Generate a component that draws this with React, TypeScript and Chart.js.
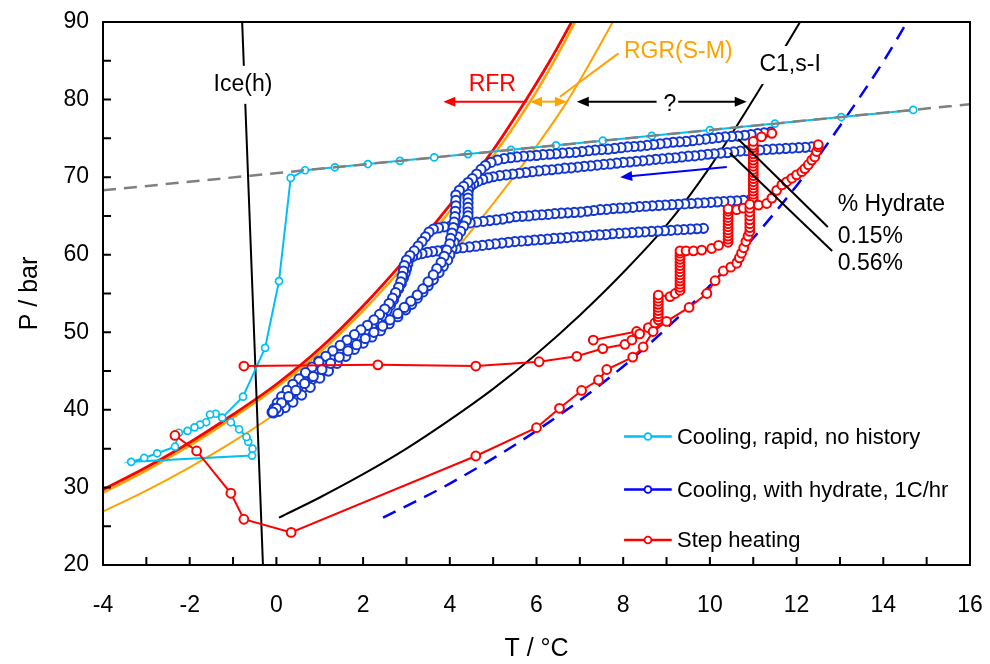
import React, { useEffect, useRef } from "react";
import { Chart, registerables } from "chart.js";

Chart.register(...registerables);

const FONT = "'Liberation Sans', Arial, Helvetica, sans-serif";
const RED = "#FF0000";
const ORANGE = "#FFA200";
const CYAN = "#00BFF3";
const BLUE = "#1236D2";
const BLUE_LINE = "#0000FF";
const GREY = "#808080";

type Pair = [number, number];

// ---------- equilibrium curves (T in °C, P in bar) ----------
const rfrT = [-4, -3, -2, -1, 0, 1, 2, 3, 4, 5, 5.73, 6.3, 6.81];
const rfrP = [29.7, 32.6, 35.8, 39.4, 43.3, 47.9, 53.4, 59.6, 66.4, 73.5, 79.7, 84.9, 90];

const orangeHiT = [-4, -3, -2, -1, 0, 1, 2, 3, 4, 5, 5.85, 6.4, 6.89];
const orangeHiP = [29.3, 32.2, 35.4, 39.0, 42.9, 47.4, 52.8, 58.9, 65.6, 72.7, 79.7, 84.9, 90];

const rgrT = [-4, -3, -2, -1, 0, 1, 2, 3, 4, 5, 6, 6.7, 7.2, 7.76];
const rgrP = [26.9, 29.6, 32.6, 35.9, 39.6, 43.9, 48.7, 54.0, 59.8, 66.6, 74.0, 79.7, 84.4, 90];

const c1T = [0.06, 1, 2, 3, 4, 5, 6, 7, 8, 9, 10, 11, 11.5, 12.08];
const c1P = [26.1, 28.7, 31.7, 35.0, 38.7, 42.7, 47.2, 52.2, 57.7, 63.8, 71.3, 80.0, 84.6, 90];

const dashBlueT = [2.46, 4, 6, 8, 10, 12, 13, 14, 14.55];
const dashBlueP = [26.1, 30.5, 37.3, 45.6, 56.0, 68.9, 76.6, 84.9, 90];

const iceT = [-0.79, -0.31];
const iceP = [90, 20];

const greyT = [-4, 16];
const greyP = [68.3, 79.4];

// ---------- measured series ----------
const cyanRapid: Pair[] = [
  [14.69, 78.67], [13.03, 77.75], [11.5, 76.9], [10.0, 76.07], [8.66, 75.33], [7.53, 74.7],
  [6.45, 74.1], [5.41, 73.52], [4.42, 72.97], [3.64, 72.54], [2.85, 72.1], [2.11, 71.69],
  [1.35, 71.27], [0.66, 70.89], [0.33, 69.9], [0.06, 56.6], [-0.26, 48.0], [-0.77, 41.7],
  [-1.25, 39.0], [-1.4, 39.5], [-1.53, 39.4], [-1.62, 38.4], [-1.76, 38.1], [-1.89, 37.75],
  [-2.05, 37.3], [-2.25, 37.05], [-2.34, 35.25], [-2.75, 34.4], [-3.05, 33.8], [-3.35, 33.3],
  [-0.56, 34.1], [-0.55, 35.0], [-0.65, 35.9], [-0.69, 36.5], [-0.86, 37.5], [-1.05, 38.4],
];

const blueRunA: Pair[] = [
  [11.4, 75.8], [11.25, 75.7], [11.1, 75.6], [10.95, 75.5], [10.8, 75.4], [10.65, 75.3], [10.5, 75.25],
  [10.35, 75.2], [10.2, 75.1], [10.05, 75.0], [9.9, 74.9], [9.75, 74.8], [9.6, 74.7], [9.45, 74.6],
  [9.3, 74.55], [9.15, 74.5], [9.0, 74.4], [8.85, 74.3], [8.7, 74.2], [8.55, 74.1], [8.4, 74.0],
  [8.25, 73.95], [8.1, 73.9], [7.95, 73.8], [7.8, 73.7], [7.65, 73.6], [7.5, 73.55], [7.35, 73.5],
  [7.2, 73.4], [7.05, 73.3], [6.9, 73.2], [6.75, 73.15], [6.6, 73.1], [6.45, 73.0], [6.3, 72.95],
  [6.15, 72.9], [6.0, 72.8], [5.85, 72.75], [5.7, 72.7], [5.55, 72.6], [5.4, 72.5], [5.25, 72.4],
  [5.1, 72.2], [4.95, 71.9], [4.82, 71.5], [4.72, 71.0], [4.62, 70.4], [4.52, 69.8], [4.42, 69.3],
  [4.32, 68.8], [4.22, 68.3], [4.14, 67.7], [4.14, 67.0], [4.14, 66.3], [4.13, 65.6], [4.12, 64.9],
  [4.1, 64.2], [4.08, 63.5], [4.05, 62.8], [4.02, 62.1], [4.0, 61.4], [3.93, 60.6], [3.87, 59.8],
  [3.8, 59.0], [3.7, 58.2], [3.62, 57.4], [3.5, 56.5], [3.38, 55.6], [3.25, 54.8], [3.1, 54.0],
  [2.95, 53.2], [2.8, 52.4], [2.62, 51.6], [2.45, 50.8], [2.25, 50.0], [2.05, 49.2], [1.85, 48.4],
  [1.65, 47.6], [1.45, 46.8], [1.25, 46.0], [1.05, 45.2], [0.85, 44.3], [0.65, 43.4], [0.45, 42.5],
  [0.28, 41.7], [0.12, 40.9], [0.0, 40.2], [-0.08, 39.7],
];

const blueRunB: Pair[] = [
  [12.35, 73.9], [12.2, 73.85], [12.05, 73.8], [11.9, 73.75], [11.75, 73.7], [11.6, 73.65], [11.45, 73.6],
  [11.3, 73.55], [11.15, 73.5], [11.0, 73.45], [10.85, 73.4], [10.7, 73.35], [10.55, 73.25], [10.4, 73.15],
  [10.25, 73.1], [10.1, 73.0], [9.95, 72.95], [9.8, 72.85], [9.65, 72.75], [9.5, 72.7], [9.35, 72.6],
  [9.2, 72.5], [9.05, 72.45], [8.9, 72.35], [8.75, 72.3], [8.6, 72.2], [8.45, 72.1], [8.3, 72.05],
  [8.15, 71.95], [8.0, 71.9], [7.85, 71.8], [7.7, 71.7], [7.55, 71.65], [7.4, 71.55], [7.25, 71.45],
  [7.1, 71.4], [6.95, 71.3], [6.8, 71.2], [6.65, 71.15], [6.5, 71.05], [6.35, 70.95], [6.2, 70.9],
  [6.05, 70.8], [5.9, 70.7], [5.75, 70.6], [5.6, 70.5], [5.45, 70.4], [5.3, 70.3], [5.15, 70.2],
  [5.0, 70.05], [4.88, 69.9], [4.76, 69.7], [4.65, 69.45], [4.55, 69.15], [4.47, 68.8], [4.43, 68.3],
  [4.42, 67.8], [4.42, 67.3], [4.42, 66.7], [4.42, 66.1], [4.42, 65.5], [4.42, 65.0], [4.38, 64.4],
  [4.32, 63.7], [4.25, 63.0], [4.18, 62.3], [4.1, 61.6], [4.05, 60.8], [4.0, 60.0], [3.95, 59.3],
  [3.85, 58.5], [3.75, 57.7], [3.62, 56.8], [3.5, 56.0], [3.38, 55.2], [3.25, 54.4], [3.12, 53.6],
  [2.98, 52.9], [2.8, 52.0], [2.6, 51.1], [2.4, 50.2], [2.2, 49.4], [2.0, 48.6], [1.8, 47.8],
  [1.6, 46.9], [1.4, 46.0], [1.2, 45.0], [1.0, 44.1], [0.78, 42.9], [0.58, 41.9], [0.38, 41.0],
  [0.2, 40.3], [0.05, 39.8], [-0.07, 39.6],
];

const blueRunC: Pair[] = [
  [10.92, 67.05], [10.77, 67.0], [10.62, 66.95], [10.47, 66.9], [10.32, 66.85], [10.17, 66.8], [10.02, 66.75],
  [9.87, 66.7], [9.72, 66.65], [9.57, 66.6], [9.42, 66.55], [9.27, 66.5], [9.12, 66.45], [8.97, 66.4],
  [8.82, 66.35], [8.67, 66.3], [8.52, 66.25], [8.37, 66.2], [8.22, 66.1], [8.07, 66.05], [7.92, 66.0],
  [7.77, 65.95], [7.62, 65.85], [7.47, 65.8], [7.32, 65.7], [7.17, 65.6], [7.02, 65.5], [6.87, 65.45],
  [6.72, 65.4], [6.57, 65.35], [6.42, 65.3], [6.27, 65.2], [6.12, 65.15], [5.97, 65.1], [5.82, 65.0],
  [5.67, 64.95], [5.52, 64.9], [5.37, 64.75], [5.22, 64.6], [5.07, 64.5], [4.92, 64.4], [4.77, 64.3],
  [4.62, 64.2], [4.47, 64.1], [4.32, 64.0], [4.17, 63.85], [4.02, 63.7], [3.87, 63.6], [3.74, 63.45],
  [3.62, 63.3], [3.52, 62.9], [3.44, 62.3], [3.36, 61.7], [3.27, 61.1], [3.18, 60.5], [3.08, 59.9],
  [3.0, 59.3], [2.95, 58.6], [2.93, 57.9], [2.9, 57.2], [2.87, 56.5], [2.82, 55.8], [2.75, 55.1],
  [2.68, 54.4], [2.6, 53.7], [2.5, 53.0], [2.38, 52.3], [2.25, 51.6], [2.1, 50.9], [1.95, 50.3],
  [1.8, 49.7], [1.63, 49.0], [1.47, 48.3], [1.3, 47.6], [1.14, 46.9], [0.98, 46.2], [0.82, 45.5],
  [0.67, 44.8], [0.52, 44.0], [0.38, 43.3], [0.25, 42.5], [0.12, 41.7], [0.02, 40.9], [-0.05, 40.2],
  [-0.1, 39.7],
];

const blueRunD: Pair[] = [
  [9.85, 63.4], [9.7, 63.35], [9.55, 63.3], [9.4, 63.25], [9.25, 63.2], [9.1, 63.15], [8.95, 63.1],
  [8.8, 63.05], [8.65, 63.0], [8.5, 62.95], [8.35, 62.9], [8.2, 62.85], [8.05, 62.8], [7.9, 62.75],
  [7.75, 62.7], [7.6, 62.6], [7.45, 62.55], [7.3, 62.5], [7.15, 62.4], [7.0, 62.35], [6.85, 62.3],
  [6.7, 62.2], [6.55, 62.15], [6.4, 62.1], [6.25, 62.0], [6.1, 61.95], [5.95, 61.9], [5.8, 61.8],
  [5.65, 61.75], [5.5, 61.7], [5.35, 61.6], [5.2, 61.5], [5.05, 61.4], [4.9, 61.3], [4.75, 61.2],
  [4.6, 61.1], [4.45, 61.0], [4.3, 60.9], [4.15, 60.8], [4.0, 60.7], [3.86, 60.6], [3.72, 60.5],
  [3.6, 60.4], [3.48, 60.3], [3.36, 60.15], [3.24, 60.0], [3.14, 59.75], [3.06, 59.4], [3.03, 58.8],
  [3.0, 58.2], [2.97, 57.6], [2.93, 57.0], [2.88, 56.3], [2.82, 55.6], [2.75, 54.9], [2.7, 54.2],
  [2.63, 53.5], [2.55, 52.8], [2.45, 52.1], [2.33, 51.4], [2.2, 50.7], [2.07, 50.0], [1.93, 49.4],
  [1.78, 48.7], [1.62, 48.0], [1.46, 47.3], [1.3, 46.6], [1.14, 46.4], [0.98, 46.3], [0.97, 45.8],
  [0.97, 45.3], [0.97, 44.8], [0.82, 44.3], [0.66, 43.6], [0.5, 42.9], [0.36, 42.2], [0.22, 41.5],
  [0.1, 40.8], [0.0, 40.2], [-0.08, 39.8],
];

const redLower: Pair[] = [
  [-2.34, 36.7], [-1.84, 34.7], [-1.05, 29.25], [-0.75, 25.9], [0.34, 24.2], [4.6, 34.05], [6.0, 37.7],
  [6.53, 40.2], [7.04, 42.5], [7.43, 43.85], [7.62, 45.2], [8.22, 46.8], [8.46, 48.1], [8.69, 50.1],
  [9.0, 51.4], [9.52, 53.2], [9.93, 55.0], [10.12, 56.65], [10.31, 57.9], [10.48, 58.4], [10.62, 58.9],
  [10.68, 59.6], [10.73, 60.2], [10.78, 60.9], [10.83, 61.7], [10.88, 62.4], [10.92, 63.0], [10.92, 63.5],
  [10.92, 64.0], [10.92, 64.5], [10.92, 65.0], [10.92, 65.5], [10.92, 66.0], [10.92, 66.5], [11.12, 66.4],
  [11.31, 66.6], [11.43, 67.3], [11.54, 68.3], [11.66, 69.0], [11.77, 69.4], [11.89, 69.85], [12.0, 70.3],
  [12.12, 70.7], [12.19, 71.1], [12.27, 71.6], [12.35, 72.2], [12.42, 72.6], [12.46, 73.3], [12.5, 73.9],
  [12.5, 74.2],
];

const redUpper: Pair[] = [
  [-0.75, 45.65], [2.34, 45.8], [4.6, 45.65], [6.06, 46.2], [6.93, 46.9], [7.53, 47.9], [8.04, 48.45],
  [8.2, 49.0], [8.38, 49.8], [8.58, 50.6], [8.73, 51.2], [8.81, 51.6], [8.81, 52.0], [8.81, 52.4],
  [8.81, 52.8], [8.81, 53.2], [8.81, 53.6], [8.81, 54.0], [8.81, 54.4], [8.81, 54.8], [9.08, 54.6],
  [9.2, 55.0], [9.31, 55.4], [9.31, 55.8], [9.31, 56.2], [9.31, 56.6], [9.31, 57.0], [9.31, 57.4],
  [9.31, 57.8], [9.31, 58.2], [9.31, 58.6], [9.31, 59.0], [9.31, 59.4], [9.31, 59.8], [9.31, 60.2],
  [9.31, 60.5], [9.45, 60.5], [9.62, 60.5], [9.81, 60.6], [10.04, 60.8], [10.2, 61.2], [10.42, 61.6],
  [10.42, 62.0], [10.42, 62.4], [10.42, 62.8], [10.42, 63.2], [10.42, 63.6], [10.42, 64.0], [10.42, 64.4],
  [10.42, 64.8], [10.42, 65.2], [10.42, 65.6], [10.42, 65.9], [10.62, 65.8], [10.77, 66.0], [11.0, 66.6],
  [11.0, 67.0], [11.0, 67.4], [11.0, 67.8], [11.0, 68.2], [11.0, 68.6], [11.0, 69.0], [11.0, 69.4],
  [11.0, 69.8], [11.0, 70.2], [11.0, 70.6], [11.0, 71.0], [11.0, 71.4], [11.0, 71.8], [11.0, 72.2],
  [11.0, 72.6], [11.0, 73.0], [11.0, 73.4], [11.0, 73.8], [11.0, 74.1], [11.0, 74.6], [11.19, 75.2],
  [11.43, 75.65],
];

const redExtra: Pair[] = [[7.31, 49.0], [8.31, 50.1]];

// ---------- axis ticks ----------
const xMin = -4, xMax = 16, xStep = 2, xMinorStep = 1;
const yMin = 20, yMax = 90, yStep = 10, yMinorStep = 5;

// ---------- annotations (data coordinates) ----------
const textLabels = [
  { text: "Ice(h)", t: -0.77, p: 81.9, color: "#000", align: "center", bg: true },
  { text: "RFR", t: 4.98, p: 81.9, color: RED, align: "center", bg: false },
  { text: "RGR(S-M)", t: 9.27, p: 86.2, color: ORANGE, align: "center", bg: false },
  { text: "C1,s-I", t: 11.85, p: 84.45, color: "#000", align: "center", bg: true },
  { text: "?", t: 9.08, p: 79.4, color: "#000", align: "center", bg: false },
  { text: "% Hydrate", t: 12.95, p: 66.4, color: "#000", align: "left", bg: false },
  { text: "0.15%", t: 12.95, p: 62.3, color: "#000", align: "left", bg: false },
  { text: "0.56%", t: 12.95, p: 58.9, color: "#000", align: "left", bg: false },
];

const arrows = [
  { from: [5.77, 79.73], to: [3.85, 79.73], color: RED, both: false },
  { from: [5.85, 79.73], to: [6.7, 79.73], color: ORANGE, both: true },
  { from: [8.77, 79.73], to: [6.93, 79.73], color: "#000", both: false },
  { from: [9.27, 79.73], to: [10.85, 79.73], color: "#000", both: false },
  { from: [10.39, 71.3], to: [7.93, 70.0], color: BLUE_LINE, both: false },
];

const leaders = [
  { from: [7.89, 85.96], to: [6.54, 80.37], color: ORANGE },
  { from: [10.65, 74.92], to: [12.72, 63.57], color: "#000" },
  { from: [10.46, 73.11], to: [12.82, 60.48], color: "#000" },
];

const legendItems = [
  { label: "Cooling, rapid, no history", color: CYAN },
  { label: "Cooling, with hydrate, 1C/hr", color: BLUE_LINE },
  { label: "Step heating", color: RED },
];
// legend anchor (data coords): line start/end, text start, row levels
const legendLineT = [8.02, 9.12];
const legendTextT = 9.24;
const legendRowsP = [36.56, 29.73, 23.22];

const toPts = (ts: number[], ps: number[]) => ts.map((t, i) => ({ x: t, y: ps[i] }));
const pairPts = (arr: Pair[]) => arr.map(([x, y]) => ({ x, y }));

function curve(ts: number[], ps: number[], color: string, width: number, order: number, dash: number[] = []) {
  return {
    data: toPts(ts, ps),
    showLine: true,
    borderColor: color,
    borderWidth: width,
    borderDash: dash,
    pointRadius: 0,
    cubicInterpolationMode: "monotone",
    order,
  };
}

function series(arr: Pair[], color: string, lineColor: string, r: number, bw: number, lw: number, order: number) {
  return {
    data: pairPts(arr),
    showLine: true,
    borderColor: lineColor,
    borderWidth: lw,
    pointRadius: r,
    pointBorderWidth: bw,
    pointBorderColor: color,
    pointBackgroundColor: "#FFFFFF",
    tension: 0,
    order,
  };
}

function drawArrow(ctx: CanvasRenderingContext2D, x1: number, y1: number, x2: number, y2: number, color: string, both: boolean) {
  const hl = 12, hw = 5;
  const a = Math.atan2(y2 - y1, x2 - x1);
  ctx.strokeStyle = color;
  ctx.fillStyle = color;
  ctx.lineWidth = 2;
  let sx = x1, sy = y1;
  if (both) { sx += Math.cos(a) * hl * 0.8; sy += Math.sin(a) * hl * 0.8; }
  const ex = x2 - Math.cos(a) * hl * 0.8, ey = y2 - Math.sin(a) * hl * 0.8;
  ctx.beginPath();
  ctx.moveTo(sx, sy);
  ctx.lineTo(ex, ey);
  ctx.stroke();
  const head = (x: number, y: number, ang: number) => {
    ctx.beginPath();
    ctx.moveTo(x, y);
    ctx.lineTo(x - hl * Math.cos(ang) + hw * Math.sin(ang), y - hl * Math.sin(ang) - hw * Math.cos(ang));
    ctx.lineTo(x - hl * Math.cos(ang) - hw * Math.sin(ang), y - hl * Math.sin(ang) + hw * Math.cos(ang));
    ctx.closePath();
    ctx.fill();
  };
  head(x2, y2, a);
  if (both) head(x1, y1, a + Math.PI);
}

const annotationPlugin = {
  id: "annotationsCustom",
  afterDatasetsDraw(chart: any) {
    const { ctx, scales } = chart;
    const X = (t: number) => scales.x.getPixelForValue(t);
    const Y = (p: number) => scales.y.getPixelForValue(p);
    ctx.save();
    leaders.forEach((l) => {
      ctx.strokeStyle = l.color;
      ctx.lineWidth = 2;
      ctx.beginPath();
      ctx.moveTo(X(l.from[0]), Y(l.from[1]));
      ctx.lineTo(X(l.to[0]), Y(l.to[1]));
      ctx.stroke();
    });
    arrows.forEach((a) => drawArrow(ctx, X(a.from[0]), Y(a.from[1]), X(a.to[0]), Y(a.to[1]), a.color, a.both));
    ctx.font = `23px ${FONT}`;
    ctx.textBaseline = "middle";
    textLabels.forEach((l) => {
      const x = X(l.t), y = Y(l.p);
      const w = ctx.measureText(l.text).width;
      if (l.bg) {
        ctx.fillStyle = "#FFFFFF";
        const left = l.align === "center" ? x - w / 2 : x;
        ctx.fillRect(left - 4, y - 19, w + 8, 38);
      }
      ctx.fillStyle = l.color;
      ctx.textAlign = l.align as CanvasTextAlign;
      ctx.fillText(l.text, x, y);
    });
    // legend
    ctx.font = `22px ${FONT}`;
    ctx.textAlign = "left";
    legendItems.forEach((it, i) => {
      const y = Y(legendRowsP[i]);
      const x1 = X(legendLineT[0]), x2 = X(legendLineT[1]);
      ctx.strokeStyle = it.color;
      ctx.lineWidth = 2.5;
      ctx.beginPath();
      ctx.moveTo(x1, y);
      ctx.lineTo(x2, y);
      ctx.stroke();
      ctx.beginPath();
      ctx.arc((x1 + x2) / 2, y, 3.4, 0, Math.PI * 2);
      ctx.fillStyle = "#FFFFFF";
      ctx.fill();
      ctx.lineWidth = 1.8;
      ctx.stroke();
      ctx.fillStyle = "#000";
      ctx.fillText(it.label, X(legendTextT), y + 1);
    });
    ctx.restore();
  },
};

const framePlugin = {
  id: "frameCustom",
  afterDraw(chart: any) {
    const { ctx, chartArea: a, scales } = chart;
    ctx.save();
    ctx.strokeStyle = "#000";
    ctx.lineWidth = 2;
    ctx.strokeRect(a.left, a.top, a.right - a.left, a.bottom - a.top);
    ctx.beginPath();
    for (let v = yMin; v <= yMax; v += yMinorStep) {
      const y = scales.y.getPixelForValue(v);
      ctx.moveTo(a.left, y);
      ctx.lineTo(a.left + 8, y);
    }
    for (let v = xMin; v <= xMax; v += xMinorStep) {
      const x = scales.x.getPixelForValue(v);
      ctx.moveTo(x, a.bottom);
      ctx.lineTo(x, a.bottom - 8);
    }
    ctx.stroke();
    ctx.restore();
  },
};

export default function App() {
  const ref = useRef<HTMLCanvasElement>(null);
  useEffect(() => {
    document.body.style.margin = "0";
    const canvas = ref.current;
    if (!canvas) return;
    const datasets: any[] = [
      series(redLower, RED, RED, 4.4, 2, 2, 1),
      series(redUpper, RED, RED, 4.4, 2, 2, 1),
      series(redExtra, RED, RED, 4.4, 2, 2, 1),
      series(blueRunA, BLUE, BLUE, 4.6, 2, 1.5, 2),
      series(blueRunB, BLUE, BLUE, 4.6, 2, 1.5, 2),
      series(blueRunC, BLUE, BLUE, 4.6, 2, 1.5, 2),
      series(blueRunD, BLUE, BLUE, 4.6, 2, 1.5, 2),
      curve(greyT, greyP, GREY, 2.5, 3, [13, 8]),
      series(cyanRapid, CYAN, CYAN, 3.5, 1.7, 2, 4),
      curve(dashBlueT, dashBlueP, BLUE_LINE, 2.5, 5, [14, 9]),
      curve(c1T, c1P, "#000", 2, 5),
      curve(iceT, iceP, "#000", 2, 5),
      curve(rfrT, rfrP, RED, 2.8, 6),
      curve(orangeHiT, orangeHiP, ORANGE, 2.5, 7),
      curve(rgrT, rgrP, ORANGE, 2, 7),
    ];
    const tickFont = { family: FONT, size: 23 };
    const chart = new Chart(canvas, {
      type: "scatter",
      data: { datasets },
      options: {
        animation: false,
        responsive: false,
        events: [],
        layout: { padding: { top: 22, right: 20, left: 0, bottom: 0 } },
        plugins: { legend: { display: false }, tooltip: { enabled: false } },
        scales: {
          x: {
            type: "linear",
            min: xMin,
            max: xMax,
            ticks: { stepSize: xStep, font: tickFont, color: "#000", padding: 27, maxRotation: 0, autoSkip: false },
            grid: { display: false, drawTicks: false },
            border: { display: false },
            title: { display: true, text: "T / °C", color: "#000", font: { family: FONT, size: 25 }, padding: { top: 0, bottom: 0 } },
            afterFit: (s: any) => { s.height = 99; s.paddingLeft = 0; s.paddingRight = 0; },
          },
          y: {
            type: "linear",
            min: yMin,
            max: yMax,
            ticks: { stepSize: yStep, font: tickFont, color: "#000", padding: 14 },
            grid: { display: false, drawTicks: false },
            border: { display: false },
            title: { display: true, text: "P / bar", color: "#000", font: { family: FONT, size: 25 }, padding: { top: 15, bottom: 0 } },
            afterFit: (s: any) => { s.width = 103; s.paddingTop = 0; s.paddingBottom = 0; },
          },
        },
      } as any,
      plugins: [annotationPlugin, framePlugin],
    });
    return () => chart.destroy();
  }, []);
  return (
    <div style={{ position: "fixed", left: 0, top: 0, width: 990, height: 664, background: "#FFFFFF" }}>
      <canvas ref={ref} width={990} height={664} style={{ display: "block", width: 990, height: 664 }} />
    </div>
  );
}
